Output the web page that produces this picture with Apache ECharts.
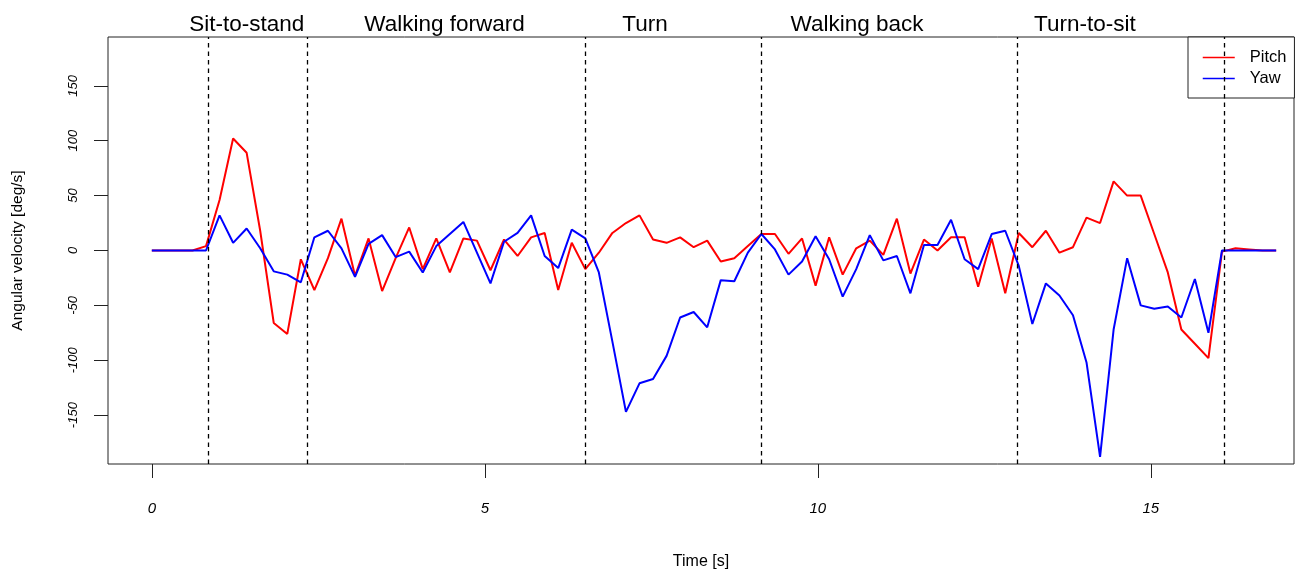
<!DOCTYPE html>
<html>
<head>
<meta charset="utf-8">
<script src="https://cdn.jsdelivr.net/npm/echarts@6/dist/echarts.min.js"></script>
<style>
  html, body { margin: 0; padding: 0; background: #fff; }
  #chart { width: 1295px; height: 571px; }
</style>
</head>
<body>
<div id="chart"></div>
<script>
// samples are ~0.2034 s apart, 84 of them
const sampleStep = 0.2034;

const pitch = [
  0, 0, 0, 0, 4, 46, 102, 89, 18, -66,
  -76, -8, -36, -7, 29, -23, 11, -37, -7, 21,
  -17, 11, -20, 11, 9, -18, 10, -5, 12, 16,
  -36, 7, -17, -2, 16, 25, 32, 10, 7, 12,
  3, 9, -10, -7, 4, 15, 15, -3, 11, -32,
  12, -22, 2, 9, -4, 29, -21, 10, 0, 12,
  12, -33, 11, -39, 16, 3, 18, -2, 3, 30,
  25, 63, 50, 50, 15, -20, -72, -85, -98, -1,
  2, 1, 0, 0
];

const yaw = [
  0, 0, 0, 0, 0, 32, 7, 20, 2, -19,
  -22, -29, 12, 18, 2, -24, 6, 14, -6, -1,
  -20, 4, 15, 26, -2, -30, 8, 16, 32, -5,
  -16, 19, 11, -20, -83, -147, -121, -117, -96, -61,
  -56, -70, -27, -28, -2, 15, 1, -22, -10, 13,
  -8, -42, -17, 14, -9, -5, -39, 5, 5, 28,
  -8, -17, 15, 18, -14, -67, -30, -41, -59, -102,
  -188, -72, -7, -50, -53, -51, -61, -26, -75, 0,
  0, 0, 0, 0
];

// phase boundaries (s) and label positions
const phaseBounds = [0.854, 2.335, 6.509, 9.152, 13.0, 16.1];
const phaseNames = ['Sit-to-stand', 'Walking forward', 'Turn', 'Walking back', 'Turn-to-sit'];
const phasePos = [1.425, 4.396, 7.405, 10.59, 14.01];

const xTicks = [0, 5, 10, 15];
const yTicks = [-150, -100, -50, 0, 50, 100, 150];

const times = pitch.map((v, i) => +(i * sampleStep).toFixed(4));

const font = '"Liberation Sans", Arial, sans-serif';

let myChart = echarts.init(document.getElementById('chart'));
myChart.setOption({
  animation: false,
  grid: {
    left: 108,
    top: 37,
    right: 1,
    bottom: 107,
    outerBoundsMode: 'none',
    show: true,
    borderColor: '#222',
    borderWidth: 1
  },
  legend: {
    orient: 'vertical',
    left: 1188,
    top: 37,
    padding: [12, 8, 11, 14],
    itemGap: 4,
    itemWidth: 32,
    itemHeight: 14,
    borderColor: '#222',
    borderWidth: 1,
    borderRadius: 0,
    backgroundColor: '#fff',
    itemStyle: { color: 'rgba(0,0,0,0)', borderWidth: 0 },
    lineStyle: { width: 1.5 },
    textStyle: {
      fontFamily: font,
      fontSize: 16.5,
      color: '#000',
      padding: [0, 0, 0, 10]
    },
    data: ['Pitch', 'Yaw']
  },
  xAxis: [
    {
      type: 'value',
      min: -0.658,
      max: 17.15,
      name: 'Time [s]',
      nameLocation: 'middle',
      nameGap: 90,
      nameTextStyle: { fontFamily: font, fontSize: 16, color: '#000' },
      axisLine: { show: false, onZero: false },
      axisTick: {
        show: true,
        length: 14,
        customValues: xTicks,
        lineStyle: { color: '#222', width: 1 }
      },
      axisLabel: {
        customValues: xTicks,
        margin: 37,
        fontFamily: font,
        fontSize: 15,
        fontStyle: 'italic',
        color: '#000'
      },
      splitLine: { show: false }
    },
    {
      type: 'value',
      position: 'top',
      min: -0.658,
      max: 17.15,
      axisLine: { show: false, onZero: false },
      axisTick: { show: false },
      splitLine: { show: false },
      axisLabel: {
        customValues: phasePos,
        margin: 1,
        fontFamily: font,
        fontSize: 22.5,
        color: '#000',
        formatter: function (v) {
          let k = 0;
          phasePos.forEach((p, i) => {
            if (Math.abs(p - v) < Math.abs(phasePos[k] - v)) k = i;
          });
          return phaseNames[k];
        }
      }
    }
  ],
  yAxis: {
    type: 'value',
    min: -194.5,
    max: 194.5,
    name: 'Angular velocity [deg/s]',
    nameLocation: 'middle',
    nameGap: 82,
    nameRotate: 90,
    nameTextStyle: { fontFamily: font, fontSize: 15.5, color: '#000' },
    axisLine: { show: false, onZero: false },
    axisTick: {
      show: true,
      length: 14,
      customValues: yTicks,
      lineStyle: { color: '#222', width: 1 }
    },
    axisLabel: {
      customValues: yTicks,
      rotate: 90,
      margin: 28,
      fontFamily: font,
      fontSize: 13,
      fontStyle: 'italic',
      color: '#000'
    },
    splitLine: { show: false }
  },
  series: [
    {
      name: 'Pitch',
      type: 'line',
      symbol: 'none',
      data: times.map((t, i) => [t, pitch[i]]),
      lineStyle: { color: '#ff0000', width: 2 },
      itemStyle: { color: '#ff0000' },
      markLine: {
        silent: true,
        symbol: ['none', 'none'],
        label: { show: false },
        lineStyle: { color: '#000', type: [4.5, 4], width: 1.3 },
        data: phaseBounds.map(b => ({ xAxis: b }))
      }
    },
    {
      name: 'Yaw',
      type: 'line',
      symbol: 'none',
      data: times.map((t, i) => [t, yaw[i]]),
      lineStyle: { color: '#0000ff', width: 2 },
      itemStyle: { color: '#0000ff' }
    }
  ]
});
window.addEventListener('resize', () => {
  if (myChart) {
    myChart.resize()
  }
})
</script>
</body>
</html>
